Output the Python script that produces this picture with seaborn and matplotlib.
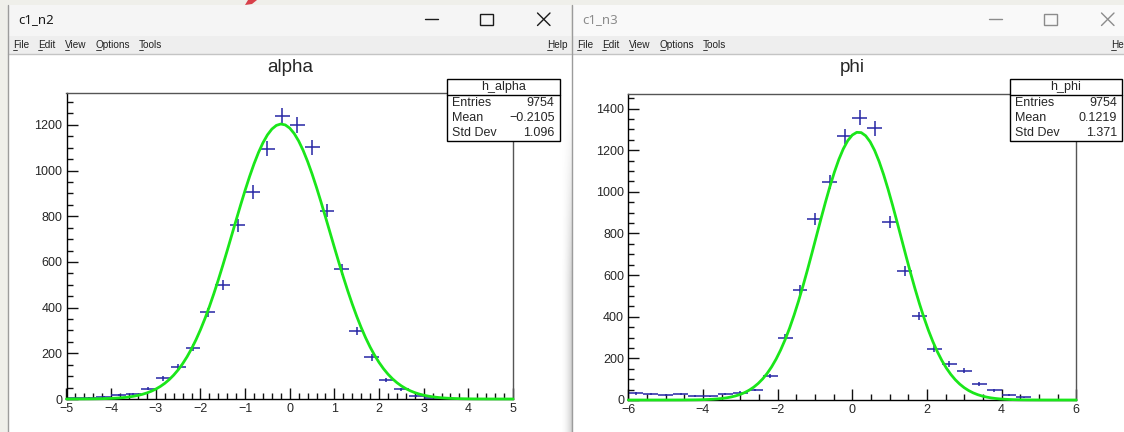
import numpy as np
import pandas as pd
import matplotlib
matplotlib.use('Agg')
import matplotlib.pyplot as plt
import seaborn as sns
from matplotlib.patches import Rectangle, Polygon
from matplotlib.ticker import MultipleLocator

# histogram contents, 30 bins each
alpha_range = (-5.0, 5.0)
alpha_counts = [3, 5, 10, 19, 20, 44, 90, 141, 224, 379, 498, 760, 905, 1095, 1240,
                1200, 1102, 825, 568, 298, 182, 83, 42, 14, 5, 2, 0, 0, 0, 0]
alpha_fit = [1204, -0.19, 1.09]      # gaus: constant, mean, sigma
alpha_stats = ['h_alpha', '9754', '\u22120.2105', '1.096']

phi_range = (-6.0, 6.0)
phi_counts = [32, 30, 22, 30, 19, 17, 27, 35, 48, 115, 300, 529, 868, 1048, 1266,
              1357, 1306, 857, 621, 403, 247, 172, 140, 76, 46, 22, 13, 0, 0, 0]
phi_fit = [1287, 0.17, 1.14]
phi_stats = ['h_phi', '9754', '0.1219', '1.371']

stat_labels = ['Entries', 'Mean', 'Std Dev']
menu_items = ['File', 'Edit', 'View', 'Options', 'Tools', 'Help']
menu_offsets = [4.7, 29.8, 56.7, 87.6, 130.9, 539]
menu_uline = [4.2, 4.6, 4.6, 5.4, 4.2, 5.0]   # width of the underlined first letter

W, H = 1124, 432
BLUE = '#2626a4'
GREEN = '#1ae61a'

sns.set_style('white')
plt.rcParams['font.family'] = ['Liberation Sans', 'DejaVu Sans']

fig = plt.figure(figsize=(W / 100, H / 100), dpi=100)
bg = fig.add_axes([0, 0, 1, 1], zorder=0)
bg.set_xlim(0, W)
bg.set_ylim(H, 0)
bg.axis('off')
over = fig.add_axes([0, 0, 1, 1], zorder=5)
over.set_xlim(0, W)
over.set_ylim(H, 0)
over.axis('off')

# desktop behind the windows
bg.add_patch(Rectangle((0, 0), W, H, color='#efefea', lw=0))
bg.add_patch(Polygon([(245, 5), (248, 0), (257, 0), (252, 4)], color='#d8404a', lw=0))


def window(x0, x1, title, active):
    fg = '#1a1a1a' if active else '#8c8c8c'
    bg.add_patch(Rectangle((x0, 5), x1 - x0, 31, color='#f5f5f5' if active else '#f9f9f9', lw=0))
    bg.add_patch(Rectangle((x0, 36), x1 - x0, 18, color='#eeeeee', lw=0))
    bg.plot([x0, x1], [53.5, 53.5], color='#c4c4c4', lw=1)
    bg.add_patch(Rectangle((x0 + 1, 54), x1 - x0, H - 54, color='white', lw=0))
    bg.plot([x0, x0], [5, H], color='#9c9c9c', lw=1)
    bg.text(x0 + 10, 19.5, title, fontsize=9.5, color=fg, va='center',
            family=['Noto Sans', 'DejaVu Sans'])
    # caption buttons
    bg.plot([x0 + 417, x0 + 430], [19, 19], color=fg, lw=1)
    bg.add_patch(Rectangle((x0 + 472, 13.5), 12.5, 11.5, fill=False, ec=fg, lw=1))
    bg.plot([x0 + 529.5, x0 + 542], [13, 25.5], color=fg, lw=1)
    bg.plot([x0 + 529.5, x0 + 542], [25.5, 13], color=fg, lw=1)
    for name, off, uw in zip(menu_items, menu_offsets, menu_uline):
        bg.text(x0 + off, 44.5, name, fontsize=7.2, color='#222222', va='center')
        bg.plot([x0 + off + 0.3, x0 + off + uw], [49.8, 49.8], color='#222222', lw=0.6)


window(8, 571, 'c1_n2', True)
window(572, W + 2, 'c1_n3', False)

# soft shadow along the edge between the two windows
rows, cols = 120, 12
yy = np.linspace(0, 1, rows)[:, None]
xx = np.linspace(0, 1, cols)[None, :]
shade = np.zeros((rows, cols, 4))
shade[..., :3] = 0.55
shade[..., 3] = (xx ** 2) * 0.4 * np.clip((yy - 0.1) / 0.5, 0, 1)
bg.imshow(shade, extent=(560, 571.5, H, 54), aspect='auto', interpolation='bilinear', zorder=3)


def hist_panel(rect_px, rng, counts, fit, ymax, xmaj, xmin):
    l, t, r, b = rect_px
    ax = fig.add_axes([l / W, 1 - b / H, (r - l) / W, (b - t) / H], zorder=2)
    edges = np.linspace(rng[0], rng[1], len(counts) + 1)
    df = pd.DataFrame({'x': 0.5 * (edges[1:] + edges[:-1]),
                       'n': counts,
                       'w': np.diff(edges) / 2})
    df = df[df['n'] > 0]
    ax.errorbar(df['x'], df['n'], xerr=df['w'], yerr=np.sqrt(df['n']),
                fmt='none', ecolor=BLUE, elinewidth=1.1, capsize=0, zorder=2)
    c, m, s = fit
    xs = np.linspace(rng[0], rng[1], 101)
    sns.lineplot(x=xs, y=c * np.exp(-0.5 * ((xs - m) / s) ** 2), ax=ax,
                 color=GREEN, lw=2, zorder=3, clip_on=False)
    ax.set_xlim(*rng)
    ax.set_ylim(0, ymax)
    ax.xaxis.set_major_locator(MultipleLocator(xmaj))
    ax.xaxis.set_minor_locator(MultipleLocator(xmin))
    ax.yaxis.set_major_locator(MultipleLocator(200))
    ax.yaxis.set_minor_locator(MultipleLocator(50))
    ax.tick_params(which='both', direction='in', top=False, right=False,
                   left=True, bottom=True, width=1, color='#111111')
    ax.tick_params(which='major', length=8, labelsize=9, pad=3)
    ax.tick_params(which='minor', length=4.3)
    for side in ['left', 'bottom']:
        ax.spines[side].set_color('#000000')
        ax.spines[side].set_linewidth(1)
    for side in ['top', 'right']:
        ax.spines[side].set_color('#555555')
        ax.spines[side].set_linewidth(1)
    ax.set_xlabel('')
    ax.set_ylabel('')
    ax.set_facecolor('none')
    return ax


hist_panel((66.5, 92.7, 513, 399), alpha_range, alpha_counts, alpha_fit, 1341, 1, 0.2)
hist_panel((628.3, 94, 1076.2, 400), phi_range, phi_counts, phi_fit, 1470, 2, 0.5)

over.text(290, 68, 'alpha', fontsize=13.5, ha='center', va='center')
over.text(852, 68, 'phi', fontsize=13.5, ha='center', va='center')


def stats_box(x0, x1, values):
    over.add_patch(Rectangle((x0, 79), x1 - x0, 62, fc='white', ec='black', lw=1))
    over.plot([x0, x1], [95, 95], color='black', lw=1)
    over.text((x0 + x1) / 2, 87.3, values[0], fontsize=9, ha='center', va='center')
    for i, lab in enumerate(stat_labels):
        yy = 103.3 + 15 * i
        over.text(x0 + 5, yy, lab, fontsize=9, ha='left', va='center')
        over.text(x1 - 5, yy, values[i + 1], fontsize=9, ha='right', va='center')


stats_box(447, 559.5, alpha_stats)
stats_box(1010, 1122, phi_stats)

fig.savefig('out.png', dpi=100)
